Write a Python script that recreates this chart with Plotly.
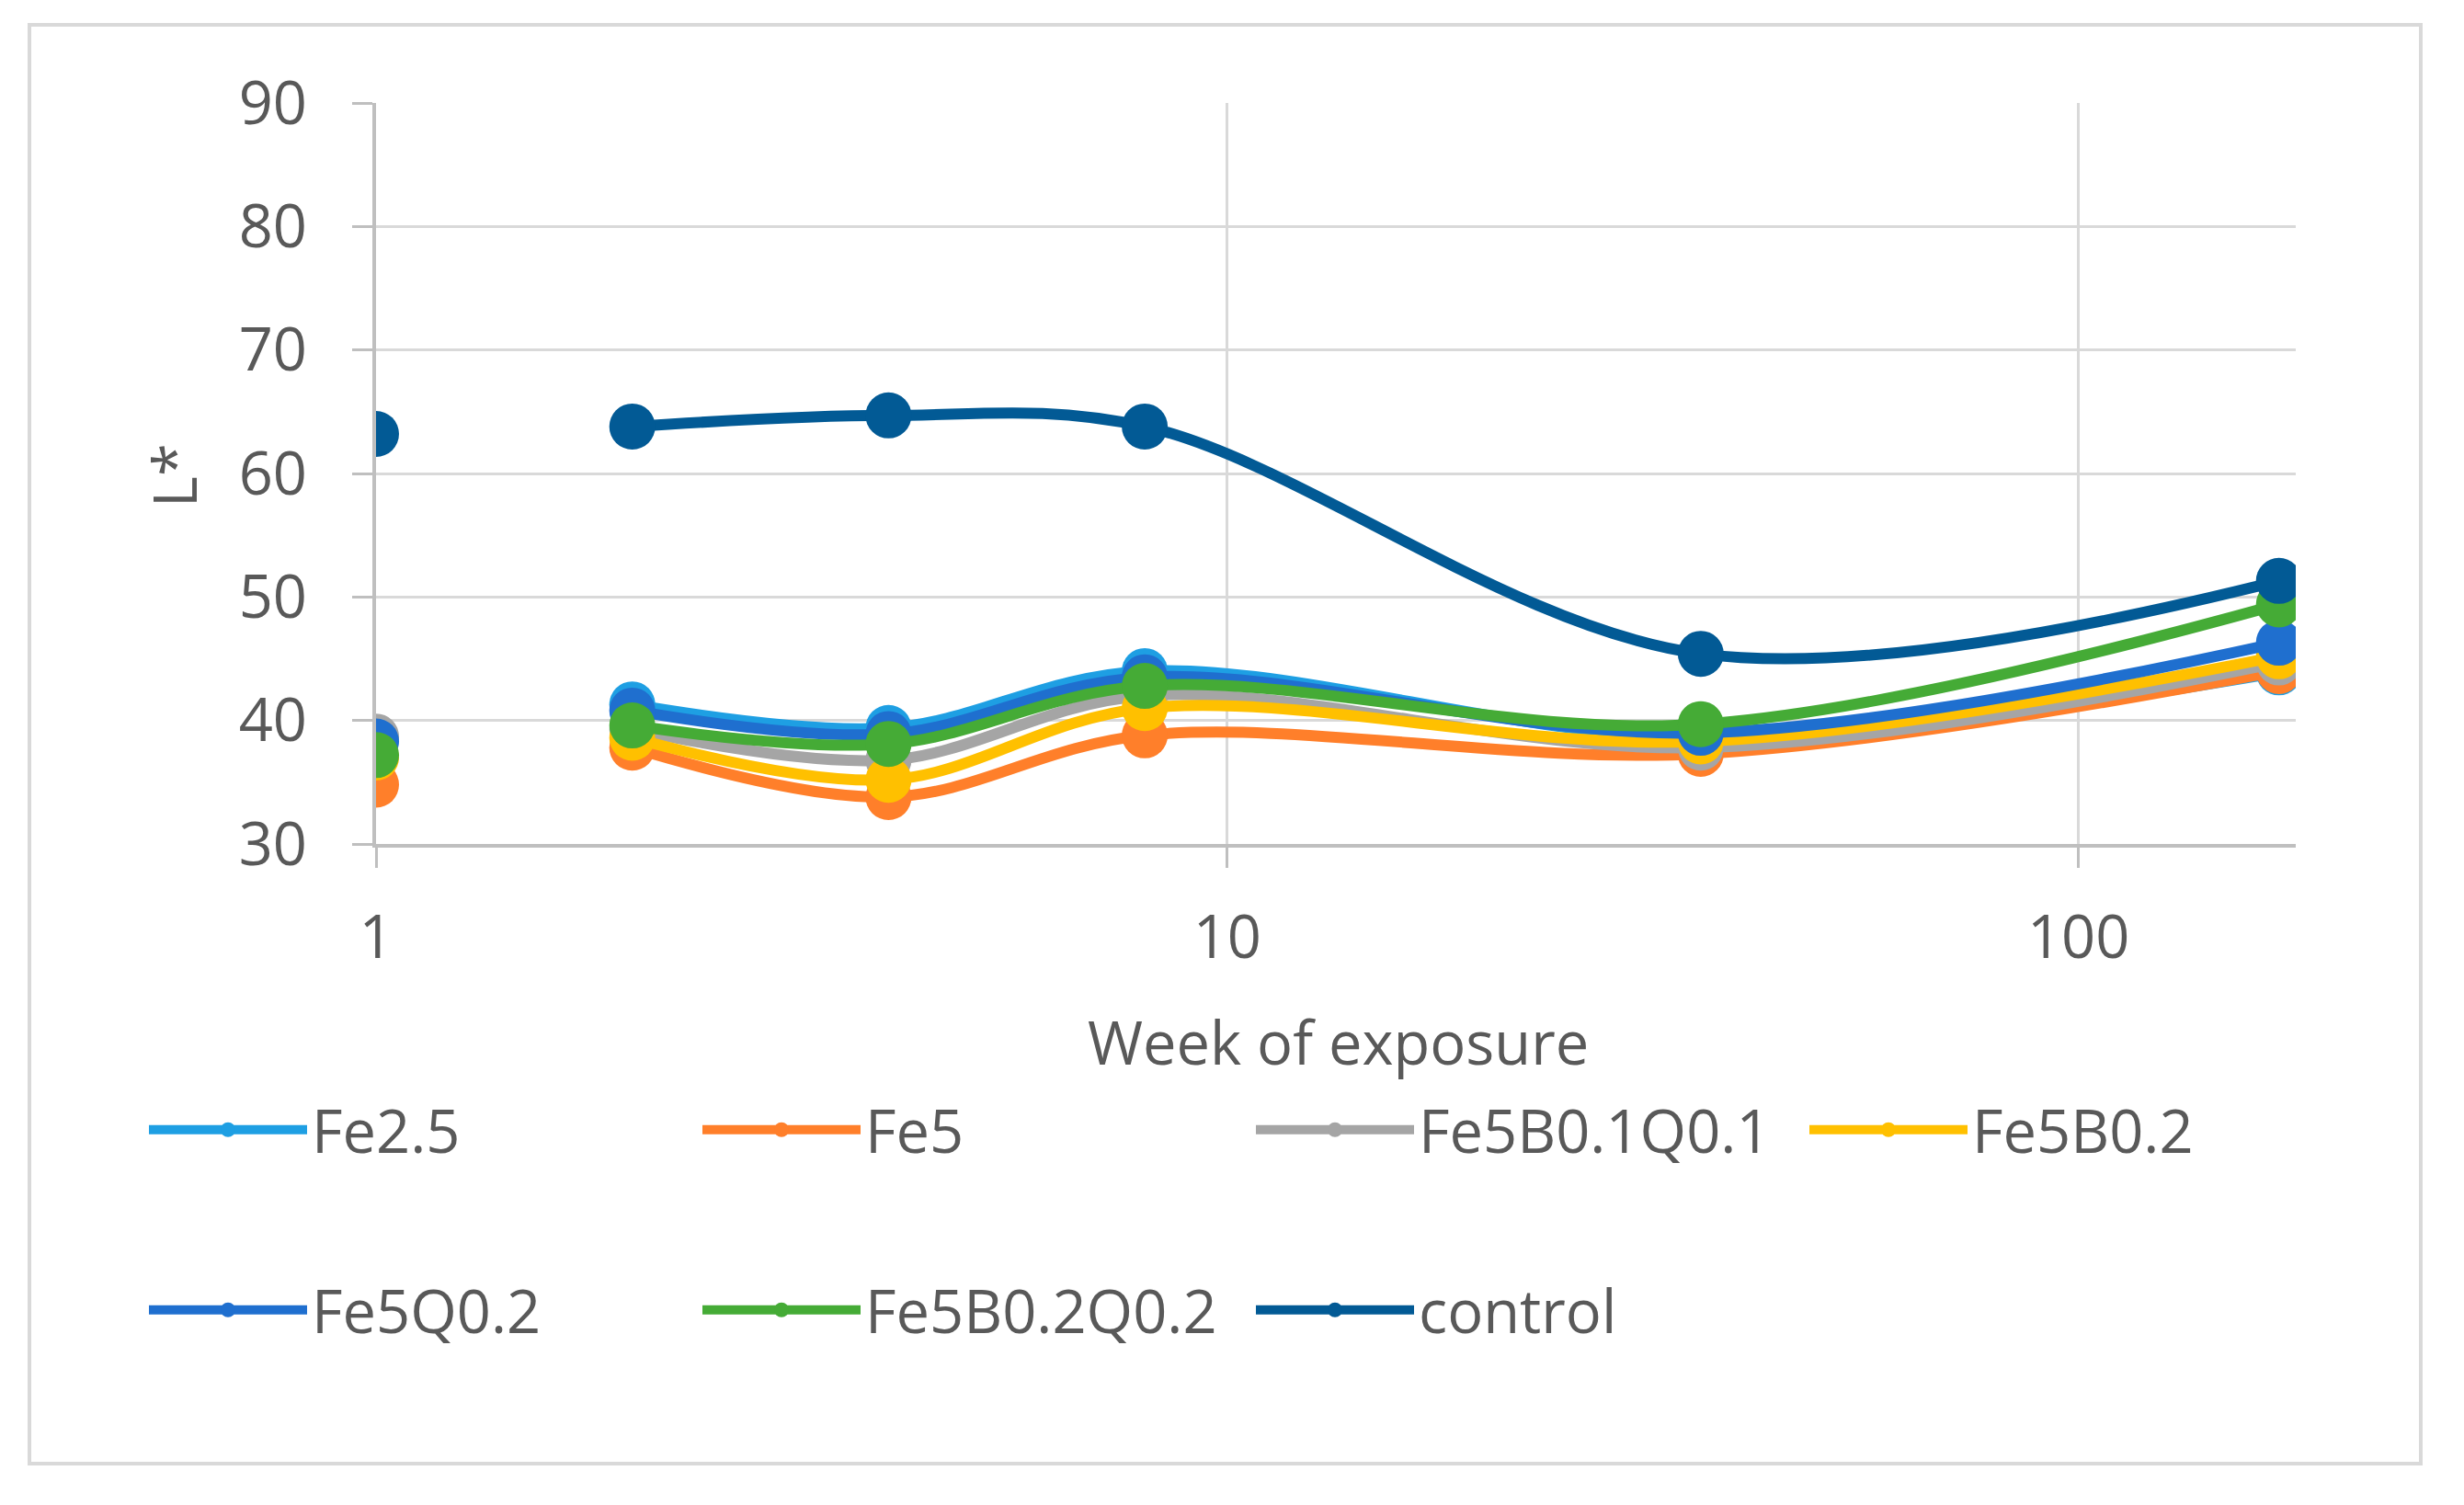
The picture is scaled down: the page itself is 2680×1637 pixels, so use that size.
import plotly.graph_objects as go

# ---- data ----
weeks = [1, 2, 4, 8, 36, 172]

series_names = ["Fe2.5", "Fe5", "Fe5B0.1Q0.1", "Fe5B0.2", "Fe5Q0.2", "Fe5B0.2Q0.2", "control"]

fe25 = [38.5, 41.3, 39.4, 44.0, 38.6, 43.9]
fe5 = [34.8, 37.8, 33.8, 38.8, 37.3, 44.0]
fe5b01q01 = [38.7, 39.3, 36.8, 42.0, 37.8, 44.7]
fe5b02 = [37.0, 38.6, 35.2, 41.0, 38.3, 45.2]
fe5q02 = [38.3, 40.8, 38.9, 43.5, 39.0, 46.3]
fe5b02q02 = [37.2, 39.6, 38.1, 42.8, 39.7, 49.4]
control = [63.2, 63.8, 64.7, 63.8, 45.4, 51.3]

x_ticks = [1, 10, 100]
x_tick_labels = ["1", "10", "100"]
y_ticks = [30, 40, 50, 60, 70, 80, 90]

# ---- styling ----
colors = ["#1E9FE3", "#FF7F2A", "#A5A5A5", "#FFC000", "#1F6FCF", "#45AB36", "#025A95"]
values = [fe25, fe5, fe5b01q01, fe5b02, fe5q02, fe5b02q02, control]
legend_ids = ["legend", "legend", "legend", "legend", "legend2", "legend2", "legend2"]

FONT = "Open Sans"
TXT = "#595959"
FS = 65

fig = go.Figure()
for name, vals, col, lg in zip(series_names, values, colors, legend_ids):
    # the week-1 reading is not joined to the rest of the series in the original (empty row)
    xs = weeks[:1] + [None] + weeks[1:]
    ys = vals[:1] + [None] + vals[1:]
    fig.add_trace(go.Scatter(
        x=xs, y=ys, name=name, mode="lines+markers",
        line=dict(color=col, width=12, shape="spline", smoothing=1.0),
        marker=dict(color=col, size=50),
        connectgaps=False, legend=lg,
    ))

L, R, T, B = 409, 183, 112, 719
W, H = 2680, 1637
pw = W - L - R
ph = H - T - B

def px_x(p):
    return (p - L) / pw

def px_y(p):
    return (H - B - p) / ph

legend_common = dict(
    orientation="h", xanchor="left", yanchor="middle",
    font=dict(family=FONT, size=FS, color=TXT),
    itemwidth=172, entrywidth=415, entrywidthmode="pixels",
    bgcolor="rgba(0,0,0,0)", borderwidth=0, itemsizing="trace",
    traceorder="normal",
)

fig.update_layout(
    width=W, height=H,
    margin=dict(l=L, r=R, t=T, b=B, pad=0),
    paper_bgcolor="white", plot_bgcolor="white",
    font=dict(family=FONT, size=FS, color=TXT),
    showlegend=True,
    legend=dict(x=px_x(157), y=px_y(1229), **legend_common),
    legend2=dict(x=px_x(157), y=px_y(1425), **legend_common),
    xaxis=dict(
        type="log", range=[0, 2.2553],
        tickvals=x_ticks, ticktext=x_tick_labels,
        showgrid=True, gridcolor="#D9D9D9", gridwidth=3,
        showline=True, linecolor="#BFBFBF", linewidth=4,
        ticks="outside", ticklen=22, tickwidth=3, tickcolor="#BFBFBF",
        ticklabelstandoff=20,
        tickfont=dict(family=FONT, size=FS, color=TXT),
        zeroline=False,
    ),
    yaxis=dict(
        range=[30, 90], tickvals=y_ticks,
        showgrid=True, gridcolor="#D9D9D9", gridwidth=3,
        showline=True, linecolor="#BFBFBF", linewidth=4,
        ticks="outside", ticklen=22, tickwidth=3, tickcolor="#BFBFBF",
        ticklabelstandoff=36,
        tickfont=dict(family=FONT, size=FS, color=TXT),
        zeroline=False,
    ),
    annotations=[
        dict(text="Week of exposure", xref="paper", yref="paper",
             x=px_x(1455), y=px_y(1133), xanchor="center", yanchor="middle",
             showarrow=False, font=dict(family=FONT, size=FS, color=TXT)),
        dict(text="L*", xref="paper", yref="paper", textangle=-90,
             x=px_x(189), y=px_y(517), xanchor="center", yanchor="middle",
             showarrow=False, font=dict(family=FONT, size=FS, color=TXT)),
    ],
    shapes=[
        dict(type="rect", xref="paper", yref="paper",
             x0=px_x(32), x1=px_x(2633), y0=px_y(1592), y1=px_y(27),
             line=dict(color="#D9D9D9", width=4), fillcolor="rgba(0,0,0,0)",
             layer="below"),
    ],
)

fig.write_html("out.html", config={"displayModeBar": False},
               post_script="document.body.style.margin='0';document.body.style.overflow='hidden';")
